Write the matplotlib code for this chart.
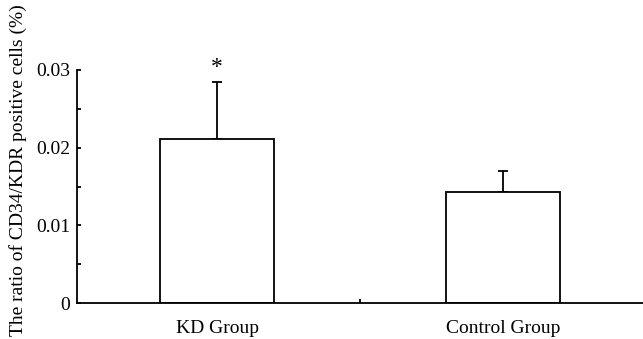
import numpy as np
import matplotlib.pyplot as plt
from matplotlib.ticker import FixedLocator

plt.rcParams['font.family'] = ['Liberation Serif', 'DejaVu Serif']

# data
groups = ["KD Group", "Control Group"]
means = [0.0211, 0.0143]
errors = [0.0073, 0.0027]
marks = ["*", ""]
yticks = [0, 0.01, 0.02, 0.03]
ytick_labels = ["0", "0.01", "0.02", "0.03"]

fig = plt.figure(figsize=(6.43, 3.39), dpi=100)
ax = fig.add_axes([77 / 643, 1 - 303 / 339, 1 - 77 / 643, (303 - 70) / 339])

x = np.arange(len(groups))
ax.bar(x, means, width=0.4, color="white", edgecolor="black", linewidth=1.3, zorder=2)
ax.errorbar(x, means, yerr=[np.zeros(len(errors)), errors], fmt="none",
            ecolor="black", elinewidth=1.3, capsize=3.5, capthick=1.3, zorder=1)

for xi, m, e, s in zip(x, means, errors, marks):
    if s:
        ax.text(xi, m + e + 0.0006, s, ha="center", va="bottom", fontsize=17)

ax.set_xlim(-0.49, 1.49)
ax.set_ylim(0, 0.03)

ax.set_yticks(yticks)
ax.set_yticklabels(ytick_labels)
ax.yaxis.set_minor_locator(FixedLocator([0.005, 0.015, 0.025]))
ax.tick_params(axis="y", which="both", direction="in", length=3, width=1.3,
               labelsize=14, pad=5)

ax.set_xticks(x)
ax.set_xticklabels(groups)
ax.tick_params(axis="x", which="major", length=0, labelsize=14, pad=12)
ax.xaxis.set_minor_locator(FixedLocator([0.5]))
ax.tick_params(axis="x", which="minor", direction="in", length=3, width=1.3)

fig.text(18 / 643, 1 - 170 / 339, "The ratio of CD34/KDR positive cells (%)",
         rotation=90, ha="center", va="center", fontsize=14)

for side in ["top", "right"]:
    ax.spines[side].set_visible(False)
for side in ["left", "bottom"]:
    ax.spines[side].set_linewidth(1.3)

fig.savefig("out.png", dpi=100)
